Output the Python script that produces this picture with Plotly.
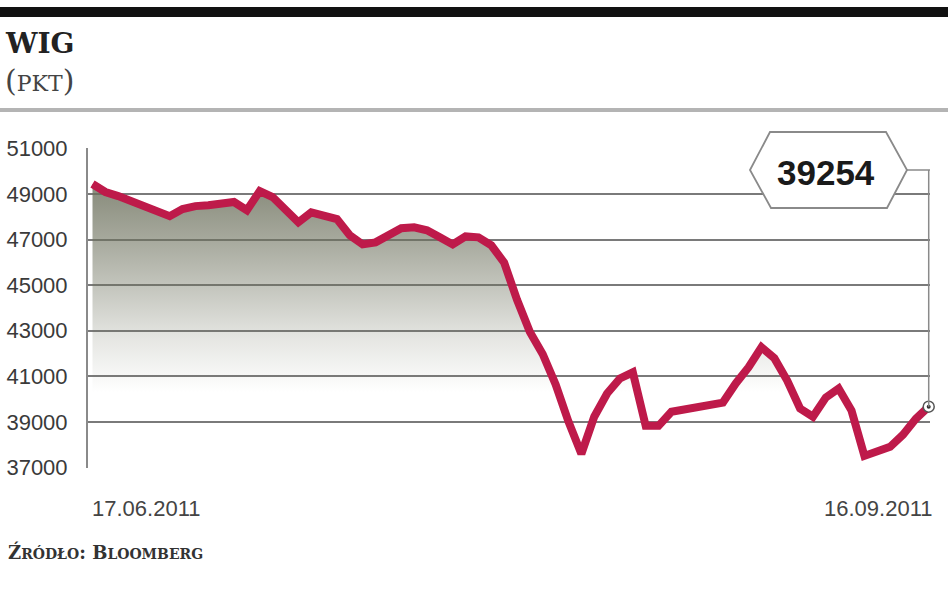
import plotly.graph_objects as go

# ---- data ----
values = [49440, 49090, 48910, 48690, 48470, 48200, 48030, 48340, 48470, 48510,
          48600, 48650, 48290, 49130, 48870, 48340, 47760, 48200, 48070, 47900,
          47190, 46790, 46880, 47230, 47500, 47540, 47410, 47100, 46790, 47140,
          47100, 46750, 45990, 44360, 42950, 41970, 40650, 39010, 37600, 39230,
          40250, 40910, 41180, 38830, 38830, 39450, 39540, 39630, 39720, 39850,
          40690, 41400, 42280, 41800, 40820, 39590, 39230, 40070, 40470, 39500,
          37510, 37690, 37910, 38440, 39140, 39670]
session = list(range(len(values)))          # trading sessions 17.06.2011 .. 16.09.2011
date_labels = ["17.06.2011", "16.09.2011"]
y_ticks = [37000, 39000, 41000, 43000, 45000, 47000, 49000, 51000]
y_ticktext = [str(v) for v in y_ticks]
last_label = "39254"
title_text = "WIG"
unit_text = "PKT"
source_big = ["Ź", "B"]
source_small = ["RÓDŁO", "LOOMBERG"]

# ---- layout geometry (pixels) ----
W, H = 948, 593
L, R, T, B = 88, 930, 148, 468
YR = [36980, 51020]
XR = [-0.35, 65.1]


def px(x):
    return (x - L) / (R - L)


def py(y):
    return (B - y) / (B - T)


def yval(y):
    return YR[0] + py(y) * (YR[1] - YR[0])


fig = go.Figure()

fig.add_trace(go.Scatter(
    x=session, y=values, mode="lines", fill="tozeroy",
    fillgradient=dict(
        type="vertical", start=40300, stop=49500,
        colorscale=[[0, "rgba(108,112,92,0)"],
                    [0.25, "rgba(108,112,92,0.17)"],
                    [0.5, "rgba(108,112,92,0.4)"],
                    [0.75, "rgba(108,112,92,0.62)"],
                    [1, "rgba(108,112,92,0.82)"]]),
    line=dict(color="#be1a4a", width=8),
    hoverinfo="skip"))

fig.add_trace(go.Scatter(
    x=[session[-1]], y=[values[-1]], mode="markers", cliponaxis=False,
    marker=dict(symbol="circle", size=11, color="white",
                line=dict(color="#555555", width=1.5)),
    hoverinfo="skip"))
fig.add_trace(go.Scatter(
    x=[session[-1]], y=[values[-1]], mode="markers", cliponaxis=False,
    marker=dict(symbol="circle", size=4, color="#333333"),
    hoverinfo="skip"))

shapes = []
# top black bar and grey rule
shapes.append(dict(type="rect", xref="paper", yref="paper", x0=px(0), x1=px(W),
                   y0=py(17), y1=py(7), fillcolor="#111111", line=dict(width=0), layer="above"))
shapes.append(dict(type="rect", xref="paper", yref="paper", x0=px(0), x1=px(W),
                   y0=py(112), y1=py(108), fillcolor="#b4b4b4", line=dict(width=0), layer="above"))
# connector from label to last point
shapes.append(dict(type="line", xref="x", yref="y", x0=session[-1], x1=session[-1],
                   y0=values[-1], y1=yval(170), line=dict(color="#8a8a8a", width=1.5), layer="above"))
shapes.append(dict(type="line", xref="paper", yref="paper", x0=px(906), x1=px(930),
                   y0=py(170), y1=py(170), line=dict(color="#8a8a8a", width=1.5), layer="above"))
# hexagon label box
path = (f"M {px(750)},{py(170)} L {px(770)},{py(132)} L {px(886)},{py(132)} "
        f"L {px(907)},{py(170)} L {px(887)},{py(208)} L {px(771)},{py(208)} Z")
shapes.append(dict(type="path", xref="paper", yref="paper", path=path,
                   fillcolor="white", line=dict(color="#8a8a8a", width=1.8), layer="above"))

ann = []
ann.append(dict(text=f"<b>{title_text}</b>", x=px(3), y=py(43), xref="paper", yref="paper",
                xanchor="left", yanchor="middle", showarrow=False,
                font=dict(family="DejaVu Serif", size=28, color="#222222")))
ann.append(dict(text=f"<span style='font-size:30px'>(</span>{unit_text}<span style='font-size:30px'>)</span>",
                x=px(3), y=py(80), xref="paper", yref="paper",
                xanchor="left", yanchor="middle", showarrow=False,
                font=dict(family="DejaVu Serif", size=22, color="#444444")))
ann.append(dict(text=f"<b>{last_label}</b>", x=px(826), y=py(172), xref="paper", yref="paper",
                xanchor="center", yanchor="middle", showarrow=False,
                font=dict(family="Liberation Sans", size=35, color="#1a1a1a")))
ann.append(dict(text=date_labels[0], x=px(90), y=py(508), xref="paper", yref="paper",
                xanchor="left", yanchor="middle", showarrow=False,
                font=dict(family="Liberation Sans", size=22, color="#444444")))
ann.append(dict(text=date_labels[1], x=px(934), y=py(508), xref="paper", yref="paper",
                xanchor="right", yanchor="middle", showarrow=False,
                font=dict(family="Liberation Sans", size=22, color="#444444")))
src = (f"<b>{source_big[0]}<span style='font-size:14px'>{source_small[0]}</span>: "
       f"{source_big[1]}<span style='font-size:14px'>{source_small[1]}</span></b>")
ann.append(dict(text=src, x=px(6), y=py(552), xref="paper", yref="paper",
                xanchor="left", yanchor="middle", showarrow=False,
                font=dict(family="DejaVu Serif", size=18, color="#333333")))

fig.update_layout(
    width=W, height=H,
    margin=dict(l=L, r=W - R, t=T, b=H - B, pad=0, autoexpand=False),
    paper_bgcolor="white", plot_bgcolor="white",
    showlegend=False,
    shapes=shapes, annotations=ann,
    xaxis=dict(range=XR, showgrid=False, showticklabels=False, zeroline=False,
               showline=False, ticks="", automargin=False),
    yaxis=dict(range=YR, tickvals=y_ticks, ticktext=y_ticktext,
               gridcolor="#7a7a7a", gridwidth=2, zeroline=False, automargin=False,
               showline=True, linecolor="#8a8a8a", linewidth=2, ticks="",
               ticklabelstandoff=14,
               tickfont=dict(family="Liberation Sans", size=22, color="#3a3a3a")),
)

fig.write_html("out.html", config={"displayModeBar": False},
               post_script="document.body.style.margin='0';")
